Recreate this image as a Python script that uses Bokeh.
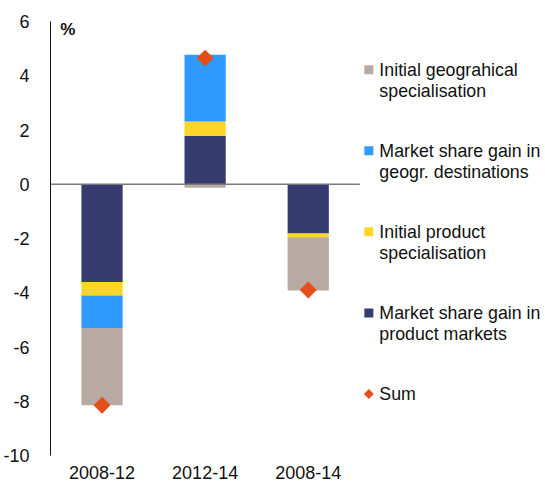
from bokeh.plotting import figure
from bokeh.models import Range1d, FixedTicker
from bokeh.core.properties import value
from bokeh.embed import file_html
from bokeh.resources import INLINE
import numpy as np

# ---------------- data ----------------
categories = ["2008-12", "2012-14", "2008-14"]
product_markets = [-3.60, 1.79, -1.82]     # Market share gain in product markets
initial_product = [-0.50, 0.52, -0.13]     # Initial product specialisation
geogr_destinations = [-1.20, 2.46, 0.00]   # Market share gain in geogr. destinations
initial_geographical = [-2.85, -0.13, -1.97]  # Initial geograhical specialisation
sum_values = [-8.15, 4.65, -3.90]
y_ticks = [-10, -8, -6, -4, -2, 0, 2, 4, 6]

series_labels = [
    "Market share gain in\nproduct markets",
    "Initial product\nspecialisation",
    "Market share gain in\ngeogr. destinations",
    "Initial geograhical\nspecialisation",
]
series_values = [product_markets, initial_product, geogr_destinations, initial_geographical]
series_colors = ["#363C70", "#FFD628", "#319AFF", "#B8A9A3"]
sum_label = "Sum"
sum_color = "#E54E18"

FONT = value("Liberation Sans")
FS = "18px"
LFS = "17.8px"

W = 545
LEFT = 49
p = figure(width=W, height=486,
           x_range=Range1d(0, (W - LEFT) / 103.3), y_range=Range1d(-10, 6),
           output_backend="svg", toolbar_location=None,
           min_border=0, min_border_left=LEFT, min_border_top=21,
           min_border_bottom=31, min_border_right=0)
p.outline_line_color = None
p.xgrid.visible = False
p.ygrid.visible = False

xs = np.arange(len(categories)) + 0.5

# stacked bars: positives and negatives stacked separately, from zero outward
pos_base = np.zeros(len(categories))
neg_base = np.zeros(len(categories))
for vals, col in zip(series_values, series_colors):
    v = np.array(vals, dtype=float)
    bottom = np.where(v >= 0, pos_base, neg_base + v)
    top = np.where(v >= 0, pos_base + v, neg_base)
    pos_base = pos_base + np.clip(v, 0, None)
    neg_base = neg_base + np.clip(v, None, 0)
    p.vbar(x=xs, width=0.4, bottom=bottom, top=top, fill_color=col, line_color=None)

# zero line
p.segment(x0=[0], y0=[0], x1=[len(categories)], y1=[0], line_color="#7A7A7A", line_width=1.5)

# sums
p.scatter(x=xs, y=sum_values, marker="square", angle=np.pi / 4, size=12,
          fill_color=sum_color, line_color=None)

# "%" unit label
p.text(x=[0.095], y=[5.7], text=["%"], text_font=FONT, text_font_style="bold",
       text_font_size="17px", text_baseline="middle", text_align="left", text_color="#111111")

# ---------------- legend (manual, right side) ----------------
leg_x_marker = 3.088
leg_x_text = 3.19
leg_y = [4.225, 1.236, -1.753, -4.742]  # top to bottom
leg_order = [3, 2, 1, 0]  # legend lists series in reverse stacking order
for yy, idx in zip(leg_y, leg_order):
    p.scatter(x=[leg_x_marker], y=[yy], marker="square", size=9,
              fill_color=series_colors[idx], line_color=None)
    lines = series_labels[idx].split("\n")
    for k, ln in enumerate(lines):
        p.text(x=[leg_x_text], y=[yy], text=[ln], y_offset=21 * k, text_font=FONT,
               text_font_size=LFS, text_baseline="middle", text_align="left",
               text_color="#111111")
p.scatter(x=[leg_x_marker], y=[-7.731], marker="square", angle=np.pi / 4, size=7,
          fill_color=sum_color, line_color=None)
p.text(x=[leg_x_text], y=[-7.731], text=[sum_label], text_font=FONT,
       text_font_size=LFS, text_baseline="middle", text_align="left", text_color="#111111")

# ---------------- axes ----------------
p.yaxis.ticker = FixedTicker(ticks=y_ticks)
p.yaxis.major_label_overrides = {t: str(t) for t in y_ticks}
p.yaxis.axis_line_color = "#111111"
p.yaxis.axis_line_width = 1
p.yaxis.major_tick_line_color = None
p.yaxis.minor_tick_line_color = None
p.yaxis.major_label_standoff = 15
p.yaxis.major_label_text_font = "Liberation Sans"
p.yaxis.major_label_text_font_size = FS
p.yaxis.major_label_text_color = "#111111"

p.xaxis.ticker = FixedTicker(ticks=list(xs))
p.xaxis.major_label_overrides = {float(x): c for x, c in zip(xs, categories)}
p.xaxis.axis_line_color = None
p.xaxis.major_tick_line_color = None
p.xaxis.minor_tick_line_color = None
p.xaxis.major_label_standoff = 4
p.xaxis.major_label_text_font = "Liberation Sans"
p.xaxis.major_label_text_font_size = FS
p.xaxis.major_label_text_color = "#111111"

open("out.html", "w").write(file_html(p, INLINE))
